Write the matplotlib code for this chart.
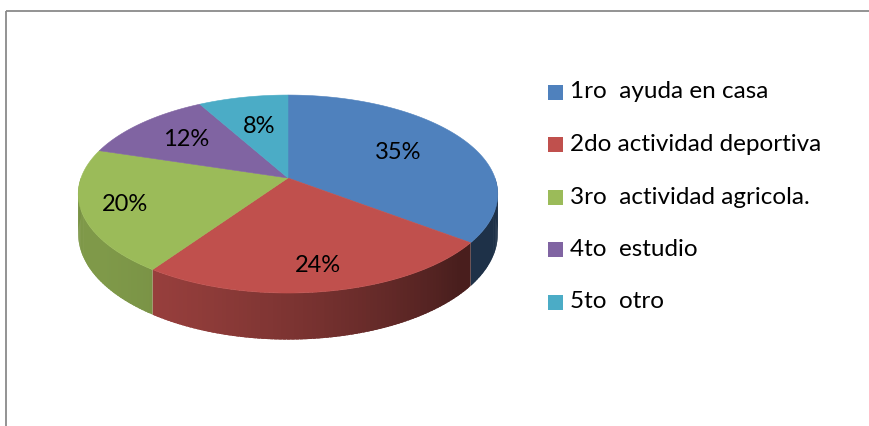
import numpy as np
import matplotlib
matplotlib.use('Agg')
from matplotlib import pyplot as plt
from matplotlib.patches import Polygon, Rectangle

# datos
categorias = ['1ro  ayuda en casa', '2do actividad deportiva', '3ro  actividad agricola.',
              '4to  estudio', '5to  otro']
valores = [35, 24, 20, 12, 8]
colores = ['#4F81BD', '#C0504D', '#9BBB59', '#8064A2', '#4BACC6']

# radio relativo de cada etiqueta de porcentaje (estilo)
radio_etiqueta = [0.62, 0.8, 0.8, 0.68, 0.6]

plt.rcParams['font.family'] = ['Lato', 'DejaVu Sans']

# geometria del pastel 3D (pixeles)
cx, cy = 288, 178        # vertice central
R, S = 207, 96.4         # radio horizontal / vertical
P = 0.162                # perspectiva
D = 39                   # grosor


def proj(r, t, drop=0.0):
    t = np.radians(t)
    u = r * np.cos(t)
    v = r * np.sin(t)
    w = 1 + P * v
    return cx + R * u / w, cy - S * v / w + drop / w


def sombra(t):
    f = 0.48 + 0.34 * np.cos(np.radians(t + 150))
    return float(np.clip(f, 0.38, 0.85))


fig = plt.figure(figsize=(8.69, 4.26), dpi=100)
ax = fig.add_axes([0, 0, 1, 1])
ax.set_xlim(0, 869)
ax.set_ylim(426, 0)
ax.axis('off')

total = sum(valores)
angulos = [90.0]
for v in valores:
    angulos.append(angulos[-1] - 360.0 * v / total)

# caras laterales (solo la parte frontal), degradado por franjas solapadas
for i, col in enumerate(colores):
    a0, a1 = angulos[i], angulos[i + 1]
    lo, hi = max(a1, -180.0), min(a0, 0.0)
    if hi <= lo:
        continue
    n = max(int((hi - lo) / 1.0), 2)
    ts = np.linspace(hi, lo, n + 1)
    base = np.array(matplotlib.colors.to_rgb(col))
    for k in range(n):
        t0 = ts[k]
        t1 = max(ts[k + 1] - 0.8, lo) if k < n - 1 else ts[k + 1]
        quad = [proj(1, t0), proj(1, t1), proj(1, t1, D), proj(1, t0, D)]
        c = base * sombra((ts[k] + ts[k + 1]) / 2)
        ax.add_patch(Polygon(quad, closed=True, facecolor=c, edgecolor='none'))

# caras superiores
for i, col in enumerate(colores):
    a0, a1 = angulos[i], angulos[i + 1]
    ts = np.linspace(a0, a1, 120)
    pts = [(cx, cy)] + [proj(1, t) for t in ts]
    ax.add_patch(Polygon(pts, closed=True, facecolor=col, edgecolor=col, lw=0.4))

# etiquetas de porcentaje
for i, v in enumerate(valores):
    tm = (angulos[i] + angulos[i + 1]) / 2
    x, y = proj(radio_etiqueta[i], tm)
    ax.text(x, y, '{:.0f}%'.format(100.0 * v / total), ha='center', va='center',
            fontsize=17, color='black')

# leyenda
for i, (lab, col) in enumerate(zip(categorias, colores)):
    y = 92 + i * 52.5
    ax.add_patch(Rectangle((548, y - 7.5), 15, 15, facecolor=col, edgecolor='none'))
    ax.text(570, y, lab, ha='left', va='center', fontsize=17.5, color='black')

# borde
ax.plot([5.5, 869], [10.5, 10.5], color='#8a8a8a', lw=1.3, solid_capstyle='butt')
ax.plot([5.5, 5.5], [10.5, 426], color='#8a8a8a', lw=1.3, solid_capstyle='butt')

fig.savefig('out.png', dpi=100)
plt.close()
